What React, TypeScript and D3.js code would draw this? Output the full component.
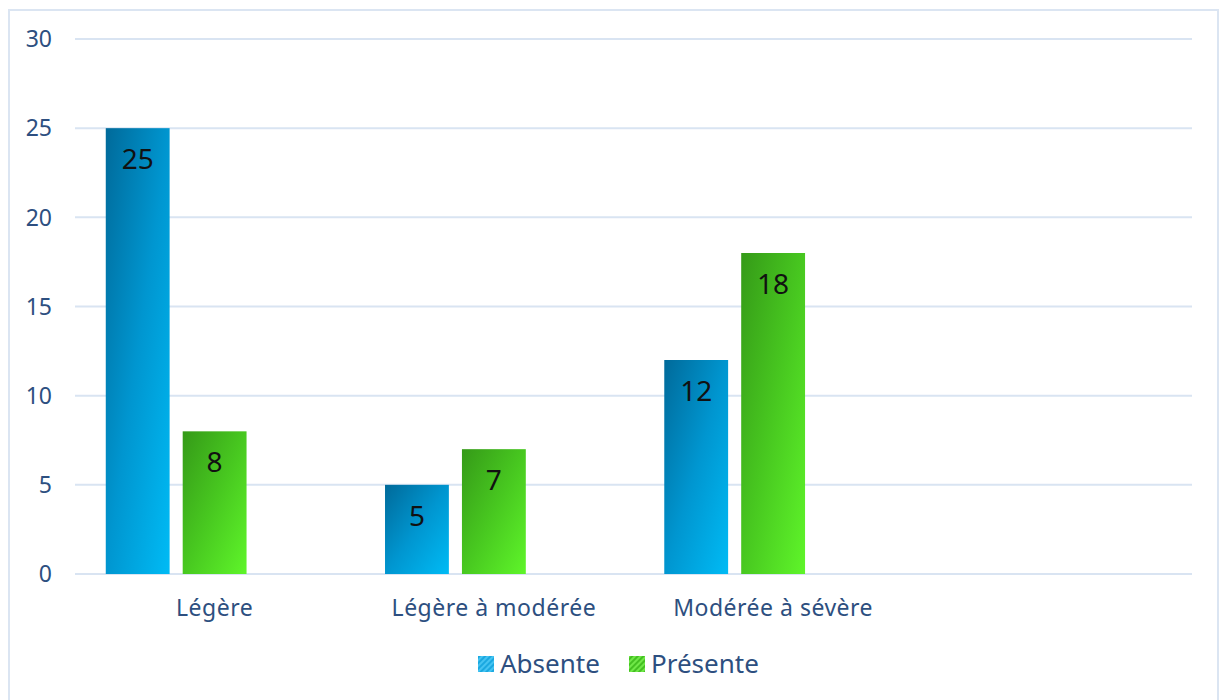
import React from "react";
import * as d3 from "d3";

const categories = ["Légère", "Légère à modérée", "Modérée à sévère", ""];
const seriesNames = ["Absente", "Présente"];
const seriesSlots = ["Absente", "Présente", "slot3"];
const absente = [25, 5, 12, null];
const presente = [8, 7, 18, null];
const yTicks = [0, 5, 10, 15, 20, 25, 30];

const W = 1220;
const H = 700;
const M = { left: 75, right: 28, top: 39, bottom: 126 };

export default function App() {
  const x = d3.scaleBand<string>().domain(categories.map((c, i) => String(i))).range([M.left, W - M.right]).paddingInner(0).paddingOuter(0);
  const xi = d3.scaleBand<string>().domain(seriesSlots).range([0, x.bandwidth()]).paddingInner(0.17).paddingOuter(0.4);
  const y = d3.scaleLinear().domain([0, 30]).range([H - M.bottom - 0, M.top]);
  const values = [absente, presente];
  const fills = ["url(#gBlue)", "url(#gGreen)"];
  const legendFills = ["url(#hBlue)", "url(#hGreen)"];
  const font = "'Noto Sans', 'Open Sans', sans-serif";
  const textColor = "#2d4f80";
  const legendX = [478, 629];

  return (
    <svg width={W} height={H} style={{ position: "absolute", left: 0, top: 0, background: "#fff" }} fontFamily={font}>
      <defs>
        <linearGradient id="gBlue" x1="0" y1="0" x2="1" y2="1" gradientUnits="objectBoundingBox">
          <stop offset="0" stopColor="#006a9a" />
          <stop offset="0.5" stopColor="#0096d0" />
          <stop offset="1" stopColor="#00bbf5" />
        </linearGradient>
        <linearGradient id="gGreen" x1="0" y1="0" x2="1" y2="1" gradientUnits="objectBoundingBox">
          <stop offset="0" stopColor="#359a18" />
          <stop offset="0.5" stopColor="#48c820" />
          <stop offset="1" stopColor="#5ff52a" />
        </linearGradient>
        <pattern id="hBlue" width="4" height="4" patternUnits="userSpaceOnUse" patternTransform="rotate(45)">
          <rect width="4" height="4" fill="#1aa8e0" />
          <rect width="2" height="4" fill="#45c4f2" />
        </pattern>
        <pattern id="hGreen" width="4" height="4" patternUnits="userSpaceOnUse" patternTransform="rotate(45)">
          <rect width="4" height="4" fill="#44c022" />
          <rect width="2" height="4" fill="#70e848" />
        </pattern>
      </defs>
      <rect x={9} y={10} width={1209} height={700} fill="#fff" stroke="#dbe5f2" strokeWidth={2} />
      {yTicks.map((t) => (
        <g key={t}>
          <line x1={M.left} x2={W - M.right} y1={y(t)} y2={y(t)} stroke="#d9e4f2" strokeWidth={2} />
          <text x={52} y={y(t)} dy="0.36em" textAnchor="end" fontSize={23} fill={textColor}>{t}</text>
        </g>
      ))}
      {categories.map((c, i) => (
        <text key={i} x={(x(String(i)) as number) + x.bandwidth() / 2} y={616} textAnchor="middle" fontSize={23} letterSpacing={0.5} fill={textColor}>{c}</text>
      ))}
      {values.map((vals, s) =>
        vals.map((v, i) => {
          if (v == null) return null;
          const bx = (x(String(i)) as number) + (xi(seriesSlots[s]) as number);
          const by = y(v);
          return (
            <g key={`${s}-${i}`}>
              <rect x={bx} y={by} width={xi.bandwidth()} height={y(0) - by} fill={fills[s]} />
              <text x={bx + xi.bandwidth() / 2} y={by + 41} textAnchor="middle" fontSize={28} fill="#111">{v}</text>
            </g>
          );
        })
      )}
      {seriesNames.map((n, s) => (
        <g key={n}>
          <rect x={legendX[s]} y={656} width={16} height={16} fill={legendFills[s]} />
          <text x={legendX[s] + 22} y={673} fontSize={26} fill={textColor}>{n}</text>
        </g>
      ))}
    </svg>
  );
}
